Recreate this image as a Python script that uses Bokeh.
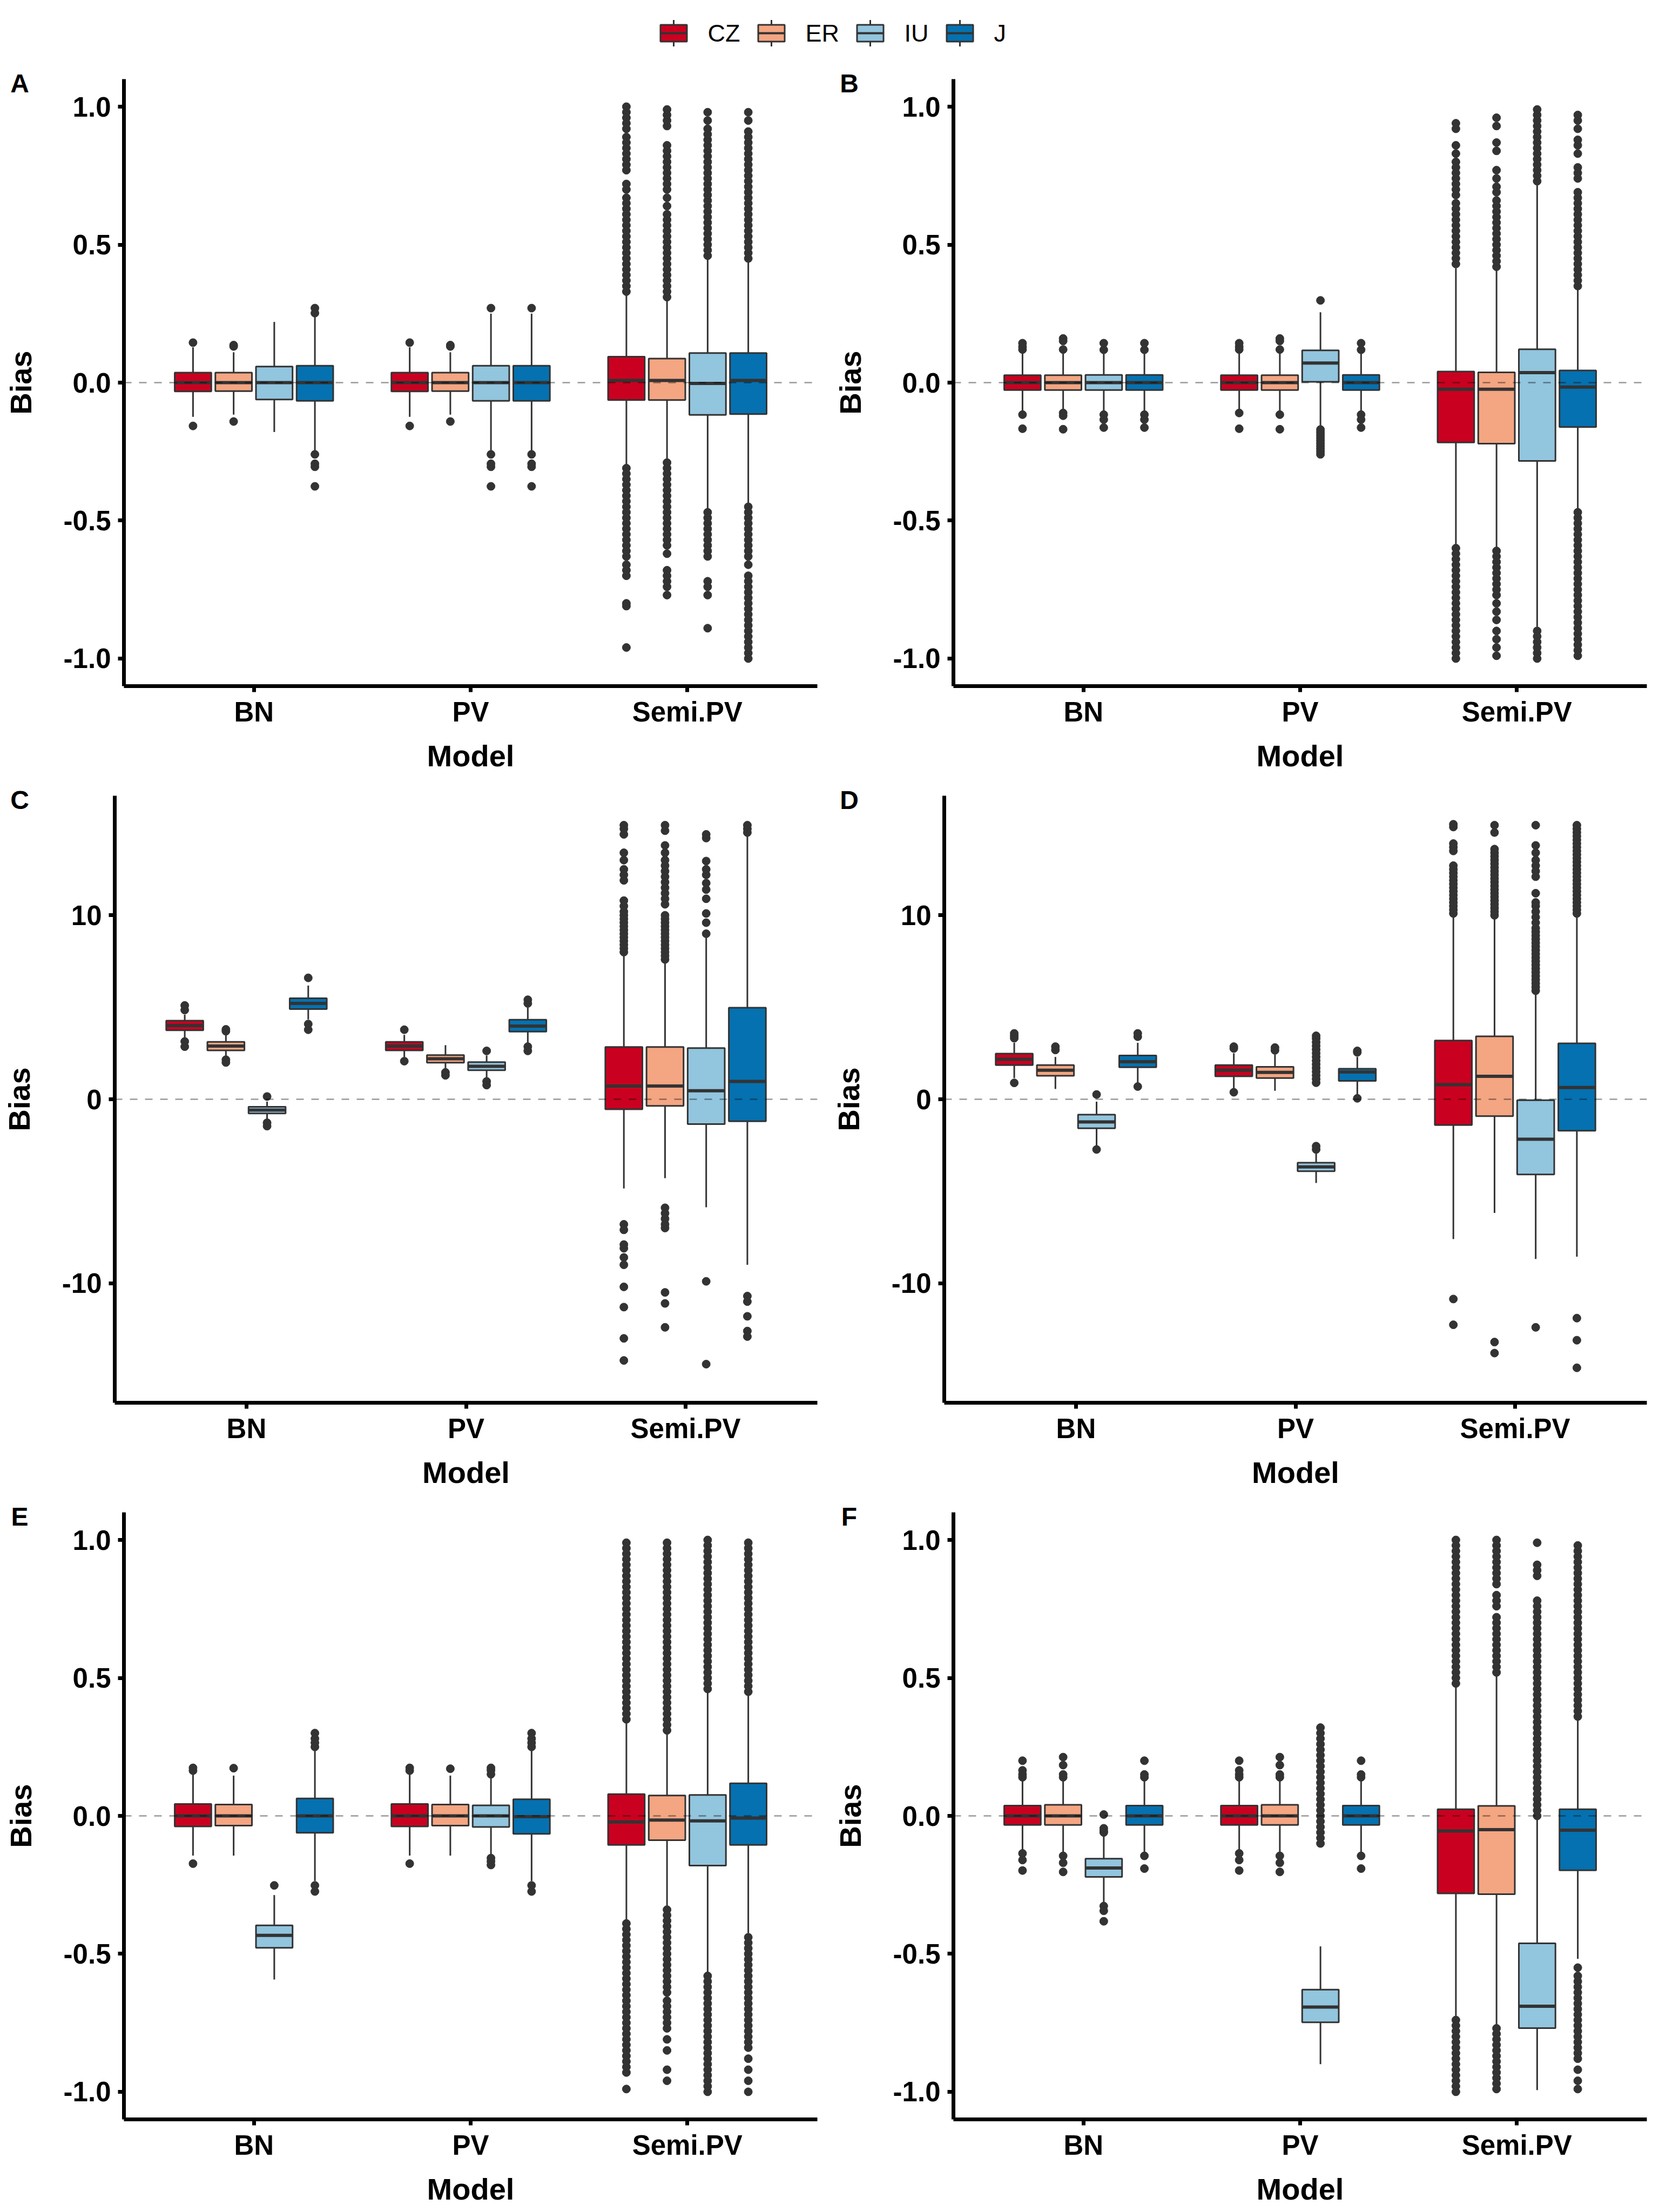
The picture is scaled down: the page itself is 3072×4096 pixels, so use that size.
from bokeh.plotting import figure
from bokeh.layouts import column, row
from bokeh.models import ColumnDataSource, Span, FixedTicker, Range1d
from bokeh.embed import file_html
from bokeh.resources import INLINE
from bokeh.core.properties import value

# ---------------- data ----------------
groups = ["CZ", "ER", "IU", "J"]
models = ["BN", "PV", "Semi.PV"]
colors = ["#CA0020", "#F4A582", "#92C5DE", "#0571B0"]

# order of 12 boxes: BN(CZ,ER,IU,J), PV(CZ,ER,IU,J), Semi.PV(CZ,ER,IU,J)
# ---- Panel A
A_lo = [-0.124, -0.116, -0.179, -0.249, -0.124, -0.116, -0.249, -0.249, -0.30, -0.28, -0.462, -0.436]
A_q1 = [-0.032, -0.031, -0.061, -0.066, -0.032, -0.031, -0.066, -0.066, -0.063, -0.063, -0.117, -0.114]
A_med = [0.0, 0.0, 0.0, 0.0, 0.0, 0.0, 0.0, 0.0, 0.008, 0.008, -0.003, 0.008]
A_q3 = [0.036, 0.036, 0.058, 0.061, 0.036, 0.036, 0.061, 0.061, 0.094, 0.087, 0.107, 0.107]
A_hi = [0.128, 0.11, 0.22, 0.242, 0.128, 0.11, 0.25, 0.25, 0.33, 0.30, 0.449, 0.436]
A_out = [
    [0.145, -0.157],
    [0.131, 0.136, -0.141],
    [],
    [0.252, 0.27, -0.26, -0.294, -0.305, -0.376],
    [0.145, -0.157],
    [0.131, 0.136, -0.141],
    [0.27, -0.26, -0.294, -0.305, -0.376],
    [0.27, -0.26, -0.294, -0.305, -0.376],
    [0.33, 0.35, 0.37, 0.39, 0.41, 0.43, 0.45, 0.47, 0.49, 0.51, 0.53, 0.55, 0.57, 0.59, 0.61, 0.63, 0.65, 0.67,
     0.70, 0.72, 0.77, 0.79, 0.81, 0.83, 0.85, 0.87, 0.89, 0.92, 0.94, 0.96, 0.98, 1.0,
     -0.31, -0.33, -0.35, -0.37, -0.39, -0.41, -0.43, -0.45, -0.47, -0.49, -0.51, -0.53, -0.55, -0.57, -0.59,
     -0.61, -0.63, -0.66, -0.68, -0.70, -0.80, -0.81, -0.96],
    [0.31, 0.33, 0.35, 0.37, 0.39, 0.41, 0.43, 0.45, 0.47, 0.49, 0.51, 0.53, 0.55, 0.57, 0.59, 0.61, 0.64, 0.67,
     0.70, 0.72, 0.74, 0.76, 0.78, 0.80, 0.82, 0.84, 0.86, 0.93, 0.95, 0.97, 0.99,
     -0.29, -0.31, -0.33, -0.35, -0.37, -0.39, -0.41, -0.43, -0.45, -0.47, -0.49, -0.51, -0.53, -0.55, -0.57,
     -0.59, -0.62, -0.68, -0.70, -0.72, -0.74, -0.77],
    [0.46, 0.48, 0.50, 0.52, 0.54, 0.56, 0.58, 0.60, 0.62, 0.64, 0.66, 0.68, 0.70, 0.72, 0.74, 0.76, 0.78, 0.80,
     0.82, 0.84, 0.86, 0.88, 0.90, 0.92, 0.95, 0.98,
     -0.47, -0.49, -0.51, -0.53, -0.55, -0.57, -0.59, -0.61, -0.63, -0.72, -0.74, -0.77, -0.89],
    [0.45, 0.47, 0.49, 0.51, 0.53, 0.55, 0.57, 0.59, 0.61, 0.63, 0.65, 0.67, 0.69, 0.71, 0.73, 0.75, 0.77, 0.79,
     0.81, 0.83, 0.85, 0.87, 0.89, 0.91, 0.95, 0.98,
     -0.45, -0.47, -0.49, -0.51, -0.53, -0.55, -0.57, -0.59, -0.61, -0.63, -0.66, -0.70, -0.72, -0.74, -0.76,
     -0.78, -0.80, -0.82, -0.84, -0.86, -0.88, -0.90, -0.92, -0.94, -0.96, -0.98, -1.0],
]

# ---- Panel B
B_lo = [-0.107, -0.104, -0.107, -0.107, -0.107, -0.104, -0.16, -0.107, -0.597, -0.60, -0.885, -0.462]
B_q1 = [-0.027, -0.027, -0.027, -0.027, -0.027, -0.027, 0.003, -0.027, -0.217, -0.221, -0.284, -0.161]
B_med = [0.0, 0.0, 0.0, 0.0, 0.0, 0.0, 0.071, 0.0, -0.024, -0.024, 0.036, -0.016]
B_q3 = [0.027, 0.027, 0.028, 0.028, 0.027, 0.027, 0.117, 0.028, 0.04, 0.037, 0.121, 0.044]
B_hi = [0.114, 0.117, 0.114, 0.114, 0.114, 0.117, 0.255, 0.114, 0.415, 0.41, 0.717, 0.342]
B_out = [
    [0.12, 0.13, 0.143, -0.116, -0.167],
    [0.12, 0.151, 0.16, -0.11, -0.12, -0.169],
    [0.119, 0.143, -0.116, -0.134, -0.163],
    [0.119, 0.143, -0.116, -0.134, -0.163],
    [0.12, 0.13, 0.143, -0.11, -0.167],
    [0.12, 0.151, 0.16, -0.116, -0.169],
    [0.298, -0.17, -0.18, -0.19, -0.20, -0.21, -0.22, -0.23, -0.24, -0.25, -0.26],
    [0.119, 0.143, -0.116, -0.134, -0.163],
    [0.43, 0.45, 0.47, 0.49, 0.51, 0.53, 0.55, 0.57, 0.59, 0.61, 0.63, 0.65, 0.68, 0.70, 0.72, 0.74, 0.76, 0.78,
     0.80, 0.83, 0.86, 0.92, 0.94,
     -0.60, -0.62, -0.64, -0.66, -0.68, -0.70, -0.72, -0.74, -0.76, -0.78, -0.80, -0.82, -0.84, -0.86, -0.88,
     -0.90, -0.92, -0.94, -0.96, -0.98, -1.0],
    [0.42, 0.44, 0.46, 0.48, 0.50, 0.52, 0.54, 0.56, 0.58, 0.60, 0.62, 0.64, 0.66, 0.69, 0.71, 0.74, 0.77, 0.84,
     0.87, 0.93, 0.96,
     -0.61, -0.63, -0.65, -0.67, -0.69, -0.71, -0.73, -0.75, -0.77, -0.80, -0.83, -0.86, -0.90, -0.93, -0.96, -0.99],
    [0.73, 0.75, 0.77, 0.79, 0.81, 0.83, 0.85, 0.87, 0.89, 0.91, 0.93, 0.95, 0.97, 0.99,
     -0.90, -0.92, -0.94, -0.96, -0.98, -1.0],
    [0.35, 0.37, 0.39, 0.41, 0.43, 0.45, 0.47, 0.49, 0.51, 0.53, 0.55, 0.57, 0.59, 0.61, 0.63, 0.65, 0.67, 0.69,
     0.74, 0.76, 0.78, 0.83, 0.86, 0.88, 0.92, 0.95, 0.97,
     -0.47, -0.49, -0.51, -0.53, -0.55, -0.57, -0.59, -0.61, -0.63, -0.65, -0.67, -0.69, -0.71, -0.73, -0.75,
     -0.77, -0.79, -0.81, -0.83, -0.85, -0.87, -0.89, -0.91, -0.93, -0.95, -0.97, -0.99],
]

# ---- Panel C
C_lo = [3.27, 2.3, -1.15, 4.34, 2.3, 1.58, 1.15, 3.07, -4.85, -4.29, -5.87, -9.0]
C_q1 = [3.75, 2.66, -0.77, 4.9, 2.66, 1.99, 1.58, 3.68, -0.54, -0.36, -1.35, -1.2]
C_med = [4.01, 2.89, -0.59, 5.21, 2.89, 2.2, 1.79, 3.98, 0.72, 0.72, 0.46, 0.97]
C_q3 = [4.27, 3.12, -0.41, 5.49, 3.12, 2.4, 2.02, 4.32, 2.84, 2.84, 2.78, 4.98]
C_hi = [4.6, 3.5, -0.13, 6.18, 3.5, 2.94, 2.38, 4.98, 7.92, 7.54, 8.8, 14.3]
C_out = [
    [4.85, 5.1, 3.14, 2.86],
    [3.7, 3.8, 2.15, 2.0],
    [0.15, -1.28, -1.46],
    [6.6, 4.09, 3.78],
    [3.78, 2.07],
    [1.46, 1.3],
    [2.63, 0.97, 0.77],
    [5.21, 5.41, 2.86, 2.63],
    [8.0, 8.2, 8.4, 8.6, 8.8, 9.0, 9.2, 9.4, 9.6, 9.8, 10.0, 10.2, 10.5, 10.8, 11.9, 12.2, 12.5, 13.0, 13.4,
     14.4, 14.7, 14.9, -6.8, -7.1, -7.9, -8.1, -8.6, -9.0, -10.2, -11.3, -13.0, -14.2],
    [7.6, 7.8, 8.0, 8.2, 8.4, 8.6, 8.8, 9.0, 9.2, 9.4, 9.6, 9.8, 10.0, 10.6, 10.9, 11.2, 11.5, 11.8, 12.1, 12.4,
     12.7, 13.0, 13.4, 13.8, 14.6, 14.9, -5.9, -6.2, -6.5, -6.8, -7.0, -10.5, -11.1, -12.4],
    [9.0, 9.6, 10.1, 10.9, 11.4, 11.75, 12.2, 12.5, 12.95, 14.2, 14.4, -9.9, -14.4],
    [14.5, 14.7, 14.9, -10.7, -11.0, -11.8, -12.6, -12.9],
]

# ---- Panel D
D_lo = [1.15, 0.56, -2.55, 0.89, 0.56, 0.46, -4.55, 0.26, -7.6, -6.18, -8.68, -8.56]
D_q1 = [1.86, 1.28, -1.58, 1.74, 1.25, 1.15, -3.91, 1.0, -1.4, -0.92, -4.09, -1.71]
D_med = [2.17, 1.58, -1.23, 2.04, 1.58, 1.46, -3.68, 1.48, 0.79, 1.25, -2.17, 0.64]
D_q3 = [2.48, 1.86, -0.84, 2.38, 1.86, 1.76, -3.45, 1.66, 3.19, 3.42, -0.05, 3.04]
D_hi = [3.07, 2.3, -0.13, 3.07, 2.5, 2.43, -2.94, 2.3, 9.96, 9.83, 5.75, 9.96]
D_out = [
    [3.32, 3.45, 3.58, 0.89],
    [2.68, 2.86],
    [0.26, -2.73],
    [3.4, 3.58, 0.69],
    [2.76, 2.86, 0.38],
    [2.66, 2.81],
    [0.9, 1.1, 1.3, 1.5, 1.7, 1.9, 2.1, 2.3, 2.5, 2.7, 2.9, 3.1, 3.3, 3.45, -2.55, -2.73],
    [2.55, 2.63, 0.05],
    [10.1, 10.3, 10.5, 10.7, 10.9, 11.1, 11.3, 11.5, 11.7, 11.9, 12.1, 12.3, 12.5, 12.7, 13.5, 13.7, 13.9,
     14.8, 14.95, -10.86, -12.26],
    [10.0, 10.2, 10.4, 10.6, 10.8, 11.0, 11.2, 11.4, 11.6, 11.8, 12.0, 12.2, 12.4, 12.6, 12.8, 13.0, 13.2,
     13.4, 13.6, 14.5, 14.9, -13.2, -13.8],
    [5.9, 6.1, 6.3, 6.5, 6.7, 6.9, 7.1, 7.3, 7.5, 7.7, 7.9, 8.1, 8.3, 8.5, 8.7, 8.9, 9.1, 9.3, 9.6, 9.9, 10.2,
     10.5, 10.7, 11.2, 12.1, 12.4, 12.7, 13.0, 13.4, 13.8, 14.9, -12.4],
    [10.1, 10.3, 10.5, 10.7, 10.9, 11.1, 11.3, 11.5, 11.7, 11.9, 12.1, 12.3, 12.5, 12.7, 12.9, 13.1, 13.3,
     13.5, 13.7, 13.9, 14.1, 14.3, 14.5, 14.7, 14.9, -11.9, -13.1, -14.6],
]

# ---- Panel E
E_lo = [-0.144, -0.144, -0.593, -0.236, -0.144, -0.144, -0.144, -0.236, -0.377, -0.33, -0.572, -0.425]
E_q1 = [-0.038, -0.035, -0.478, -0.061, -0.038, -0.035, -0.04, -0.065, -0.105, -0.088, -0.18, -0.105]
E_med = [0.0, 0.0, -0.433, 0.0, 0.0, 0.0, 0.0, -0.003, -0.022, -0.015, -0.018, -0.008]
E_q3 = [0.043, 0.041, -0.397, 0.063, 0.043, 0.041, 0.038, 0.06, 0.079, 0.074, 0.076, 0.118]
E_hi = [0.151, 0.146, -0.287, 0.237, 0.151, 0.146, 0.138, 0.237, 0.347, 0.307, 0.454, 0.447]
E_out = [
    [0.164, 0.174, -0.173],
    [0.173],
    [-0.252],
    [0.25, 0.265, 0.28, 0.30, -0.252, -0.274],
    [0.164, 0.174, -0.173],
    [0.171],
    [0.151, 0.165, 0.174, -0.153, -0.165, -0.178],
    [0.25, 0.265, 0.28, 0.30, -0.252, -0.274],
    [0.35, 0.37, 0.39, 0.41, 0.43, 0.45, 0.47, 0.49, 0.51, 0.53, 0.55, 0.57, 0.59, 0.61, 0.63, 0.65, 0.67, 0.69,
     0.71, 0.73, 0.75, 0.77, 0.79, 0.81, 0.83, 0.85, 0.87, 0.89, 0.91, 0.93, 0.95, 0.97, 0.99,
     -0.39, -0.41, -0.43, -0.45, -0.47, -0.49, -0.51, -0.53, -0.55, -0.57, -0.59, -0.61, -0.63, -0.65, -0.67,
     -0.69, -0.71, -0.73, -0.75, -0.77, -0.79, -0.81, -0.83, -0.85, -0.87, -0.89, -0.91, -0.93, -0.99],
    [0.31, 0.33, 0.35, 0.37, 0.39, 0.41, 0.43, 0.45, 0.47, 0.49, 0.51, 0.53, 0.55, 0.57, 0.59, 0.61, 0.63, 0.65,
     0.67, 0.69, 0.71, 0.73, 0.75, 0.77, 0.79, 0.81, 0.83, 0.85, 0.87, 0.89, 0.91, 0.93, 0.95, 0.97, 0.99,
     -0.34, -0.36, -0.38, -0.40, -0.42, -0.44, -0.46, -0.48, -0.50, -0.52, -0.54, -0.56, -0.58, -0.60, -0.62,
     -0.64, -0.67, -0.69, -0.71, -0.73, -0.75, -0.77, -0.81, -0.85, -0.92, -0.96],
    [0.46, 0.48, 0.50, 0.52, 0.54, 0.56, 0.58, 0.60, 0.62, 0.64, 0.66, 0.68, 0.70, 0.72, 0.74, 0.76, 0.78, 0.80,
     0.82, 0.84, 0.86, 0.88, 0.90, 0.92, 0.94, 0.96, 0.98, 1.0,
     -0.58, -0.60, -0.62, -0.64, -0.66, -0.68, -0.70, -0.72, -0.74, -0.76, -0.78, -0.80, -0.82, -0.84, -0.86,
     -0.88, -0.90, -0.92, -0.94, -0.96, -0.98, -1.0],
    [0.45, 0.47, 0.49, 0.51, 0.53, 0.55, 0.57, 0.59, 0.61, 0.63, 0.65, 0.67, 0.69, 0.71, 0.73, 0.75, 0.77, 0.79,
     0.81, 0.83, 0.85, 0.87, 0.89, 0.91, 0.93, 0.95, 0.97, 0.99,
     -0.44, -0.46, -0.48, -0.50, -0.52, -0.54, -0.56, -0.58, -0.60, -0.62, -0.64, -0.66, -0.68, -0.70, -0.72,
     -0.74, -0.76, -0.78, -0.80, -0.82, -0.84, -0.88, -0.92, -0.96, -1.0],
]

# ---- Panel F
F_lo = [-0.128, -0.136, -0.319, -0.136, -0.128, -0.136, -0.9, -0.136, -0.726, -0.76, -0.994, -0.518]
F_q1 = [-0.033, -0.033, -0.221, -0.033, -0.033, -0.033, -0.748, -0.033, -0.281, -0.284, -0.769, -0.197]
F_med = [0.0, 0.0, -0.189, 0.0, 0.0, 0.0, -0.693, 0.0, -0.055, -0.05, -0.69, -0.052]
F_q3 = [0.037, 0.04, -0.155, 0.037, 0.037, 0.04, -0.63, 0.037, 0.024, 0.036, -0.462, 0.024]
F_hi = [0.13, 0.135, -0.07, 0.13, 0.13, 0.135, -0.473, 0.13, 0.468, 0.515, -0.008, 0.353]
F_out = [
    [0.14, 0.15, 0.165, 0.2, -0.136, -0.16, -0.198],
    [0.14, 0.15, 0.184, 0.213, -0.145, -0.17, -0.203],
    [0.005, -0.045, -0.055, -0.06, -0.327, -0.344, -0.382],
    [0.14, 0.15, 0.2, -0.145, -0.191],
    [0.14, 0.15, 0.165, 0.2, -0.136, -0.16, -0.198],
    [0.14, 0.15, 0.184, 0.213, -0.145, -0.17, -0.203],
    [0.32, 0.30, 0.28, 0.26, 0.24, 0.22, 0.20, 0.18, 0.16, 0.14, 0.12, 0.10, 0.08, 0.06, 0.04, 0.02, 0.0,
     -0.02, -0.04, -0.06, -0.08, -0.10],
    [0.14, 0.15, 0.2, -0.145, -0.191],
    [0.48, 0.50, 0.52, 0.54, 0.56, 0.58, 0.60, 0.62, 0.64, 0.66, 0.68, 0.70, 0.72, 0.74, 0.76, 0.78, 0.80, 0.82,
     0.84, 0.86, 0.88, 0.90, 0.92, 0.94, 0.96, 0.98, 1.0,
     -0.74, -0.76, -0.78, -0.80, -0.82, -0.84, -0.86, -0.88, -0.90, -0.92, -0.94, -0.96, -0.98, -1.0],
    [0.52, 0.54, 0.56, 0.58, 0.60, 0.62, 0.64, 0.66, 0.68, 0.70, 0.72, 0.76, 0.78, 0.80, 0.84, 0.86, 0.88, 0.90,
     0.92, 0.94, 0.96, 0.98, 1.0,
     -0.77, -0.79, -0.81, -0.83, -0.85, -0.87, -0.89, -0.91, -0.93, -0.95, -0.97, -0.99],
    [0.0, 0.02, 0.04, 0.06, 0.08, 0.10, 0.12, 0.14, 0.16, 0.18, 0.20, 0.22, 0.24, 0.26, 0.28, 0.30, 0.32, 0.34,
     0.36, 0.38, 0.40, 0.42, 0.44, 0.46, 0.48, 0.50, 0.52, 0.54, 0.56, 0.58, 0.60, 0.62, 0.64, 0.66, 0.68, 0.70,
     0.72, 0.74, 0.76, 0.78, 0.87, 0.89, 0.91, 0.99],
    [0.36, 0.38, 0.40, 0.42, 0.44, 0.46, 0.48, 0.50, 0.52, 0.54, 0.56, 0.58, 0.60, 0.62, 0.64, 0.66, 0.68, 0.70,
     0.72, 0.74, 0.76, 0.78, 0.80, 0.82, 0.84, 0.86, 0.88, 0.90, 0.92, 0.94, 0.96, 0.98,
     -0.55, -0.58, -0.60, -0.62, -0.64, -0.66, -0.68, -0.70, -0.72, -0.74, -0.76, -0.78, -0.80, -0.82, -0.84,
     -0.86, -0.88, -0.92, -0.96, -0.99],
]

unit_ticks = [-1.0, -0.5, 0.0, 0.5, 1.0]
unit_labels = ["-1.0", "-0.5", "0.0", "0.5", "1.0"]
wide_ticks = [-10, 0, 10]
wide_labels = ["-10", "0", "10"]

# ---------------- layout / style ----------------
PW, PH = 1536, 1327
LEG_H = 4096 - 3 * PH
TOP, RIGHT, BOTTOM = 31, 23, 172
FRAME_H = PH - TOP - BOTTOM
DODGE = 0.1875
BOX_W = 0.16875
DARK = "#333333"
FONT = "Liberation Sans"
LET_X, LET_Y = 36, 39   # panel letter centre, px from the panel's top-left corner


def panel(letter, lo, q1, med, q3, hi, outs, ylim, yticks, ylabels, left):
    p = figure(width=PW, height=PH, x_range=Range1d(0.4, 3.6), y_range=Range1d(*ylim),
               output_backend="svg", toolbar_location=None,
               min_border_left=left, min_border_right=RIGHT,
               min_border_top=TOP, min_border_bottom=BOTTOM,
               background_fill_color="white", border_fill_color="white")
    p.grid.visible = False
    p.outline_line_color = None

    xs, cols = [], []
    for mi in range(len(models)):
        for gi in range(len(groups)):
            xs.append(mi + 1 + (gi - 1.5) * DODGE)
            cols.append(colors[gi])
    src = ColumnDataSource(dict(x=xs, lo=lo, q1=q1, med=med, q3=q3, hi=hi, color=cols,
                                xl=[x - BOX_W / 2 for x in xs], xr=[x + BOX_W / 2 for x in xs]))
    ox, oy = [], []
    for k, o in enumerate(outs):
        ox += [xs[k]] * len(o)
        oy += list(o)
    p.scatter(ox, oy, size=15, fill_color=DARK, line_color=DARK)
    p.segment(x0="x", y0="lo", x1="x", y1="q1", source=src, line_color=DARK, line_width=3)
    p.segment(x0="x", y0="q3", x1="x", y1="hi", source=src, line_color=DARK, line_width=3)
    p.vbar(x="x", width=BOX_W, bottom="q1", top="q3", source=src,
           fill_color="color", line_color=DARK, line_width=3)
    p.segment(x0="xl", y0="med", x1="xr", y1="med", source=src, line_color=DARK, line_width=6)
    p.add_layout(Span(location=0, dimension="width", line_color="black", line_alpha=0.4,
                      line_dash="14 14", line_width=2.5))

    p.xaxis.ticker = FixedTicker(ticks=[1, 2, 3])
    p.xaxis.major_label_overrides = {1: models[0], 2: models[1], 3: models[2]}
    p.yaxis.ticker = FixedTicker(ticks=yticks)
    p.yaxis.major_label_overrides = {t: l for t, l in zip(yticks, ylabels)}
    p.xaxis.axis_label = "Model"
    p.yaxis.axis_label = "Bias"
    for ax in (p.xaxis[0], p.yaxis[0]):
        ax.axis_line_width = 7
        ax.axis_line_color = "black"
        ax.major_tick_line_width = 7
        ax.major_tick_line_color = "black"
        ax.major_tick_in = 0
        ax.major_tick_out = 11
        ax.minor_tick_line_color = None
        ax.major_label_text_font = FONT
        ax.major_label_text_font_style = "bold"
        ax.major_label_text_font_size = "51px"
        ax.major_label_text_color = "black"
        ax.axis_label_text_font = FONT
        ax.axis_label_text_font_style = "bold"
        ax.axis_label_text_font_size = "56px"
        ax.axis_label_text_color = "black"
    p.yaxis.major_label_standoff = 13
    p.yaxis.axis_label_standoff = 45
    p.xaxis.major_label_standoff = 8
    p.xaxis.axis_label_standoff = 18

    # panel letter, drawn as an unclipped text glyph in the top-left corner
    fw = PW - left - RIGHT
    px_x = fw / 3.2
    px_y = FRAME_H / (ylim[1] - ylim[0])
    r = p.text(x=[0.4 + (LET_X - left) / px_x], y=[ylim[1] - (LET_Y - TOP) / px_y], text=[letter],
               text_font=value(FONT), text_font_style="bold", text_font_size=value("48px"),
               text_align="center", text_baseline="middle", text_color="black")
    r.level = "overlay"
    return p


U = (-1.1, 1.1)
W = (-16.5, 16.5)
pA = panel("A", A_lo, A_q1, A_med, A_q3, A_hi, A_out, U, unit_ticks, unit_labels, 229)
pB = panel("B", B_lo, B_q1, B_med, B_q3, B_hi, B_out, U, unit_ticks, unit_labels, 229)
pC = panel("C", C_lo, C_q1, C_med, C_q3, C_hi, C_out, W, wide_ticks, wide_labels, 212)
pD = panel("D", D_lo, D_q1, D_med, D_q3, D_hi, D_out, W, wide_ticks, wide_labels, 212)
pE = panel("E", E_lo, E_q1, E_med, E_q3, E_hi, E_out, U, unit_ticks, unit_labels, 229)
pF = panel("F", F_lo, F_q1, F_med, F_q3, F_hi, F_out, U, unit_ticks, unit_labels, 229)

# ---------------- legend strip ----------------
leg = figure(width=3072, height=LEG_H, x_range=Range1d(0, 3072), y_range=Range1d(0, LEG_H),
             output_backend="svg", toolbar_location=None,
             x_axis_location=None, y_axis_location=None, min_border=0,
             background_fill_color="white", border_fill_color="white")
leg.grid.visible = False
leg.outline_line_color = None
KEY_X = [1247, 1428, 1611, 1777]
cy = LEG_H - 61
lsrc = ColumnDataSource(dict(x=KEY_X, xl=[k - 24.5 for k in KEY_X], xr=[k + 24.5 for k in KEY_X],
                             tx=[k + 63 for k in KEY_X], color=colors, label=groups))
leg.segment(x0="x", y0=cy - 24.5, x1="x", y1=cy + 24.5, source=lsrc, line_color=DARK, line_width=3)
leg.rect(x="x", y=cy, width=49, height=31, source=lsrc, fill_color="color", line_color=DARK, line_width=3)
leg.segment(x0="xl", y0=cy, x1="xr", y1=cy, source=lsrc, line_color=DARK, line_width=4)
leg.text(x="tx", y=cy, text="label", source=lsrc, text_font=value(FONT), text_font_size=value("45px"),
         text_baseline="middle", text_align="left", text_color="black")

layout = column(leg, row(pA, pB), row(pC, pD), row(pE, pF))
open("out.html", "w").write(file_html(layout, INLINE))
